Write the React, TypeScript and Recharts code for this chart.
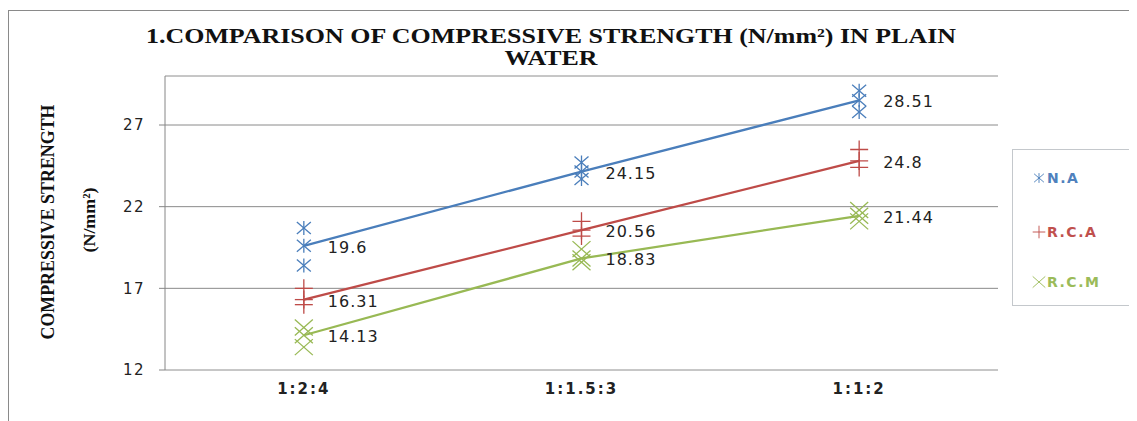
import React from 'react'
import { ComposedChart, Line, XAxis, YAxis, CartesianGrid, ReferenceLine, Legend, LabelList } from 'recharts'

const categories = ['1:2:4', '1:1.5:3', '1:1:2']
const naValues = [19.6, 24.15, 28.51]
const rcaValues = [16.31, 20.56, 24.8]
const rcmValues = [14.13, 18.83, 21.44]
// the extra specimen markers above / below each average
const naHigh = [20.7, 24.7, 29.1]
const naLow = [18.4, 23.7, 27.8]
const rcaHigh = [17.0, 21.1, 25.5]
const rcaLow = [16.0, 20.2, 24.4]
const rcmHigh = [14.6, 19.4, 21.8]
const rcmLow = [13.4, 18.6, 21.1]
const yTicks = [12, 17, 22, 27]

const data = categories.map((mix, i) => ({
    mix,
    na: naValues[i], naHi: naHigh[i], naLo: naLow[i],
    rca: rcaValues[i], rcaHi: rcaHigh[i], rcaLo: rcaLow[i],
    rcm: rcmValues[i], rcmHi: rcmHigh[i], rcmLo: rcmLow[i],
}))

const BLUE = '#4a7ebb'
const RED = '#be4b48'
const GREEN = '#98b954'

const Marker = ({ shape, cx, cy, color }: any) => {
    if (cx == null || cy == null) return null
    if (shape === 'star') {
        return (
            <g stroke={color} strokeWidth={1.3} fill="none">
                <line x1={cx - 7} y1={cy - 6} x2={cx + 7} y2={cy + 6} />
                <line x1={cx - 7} y1={cy + 6} x2={cx + 7} y2={cy - 6} />
                <line x1={cx} y1={cy - 7} x2={cx} y2={cy + 7} />
            </g>
        )
    }
    if (shape === 'plus') {
        return (
            <g stroke={color} strokeWidth={1.3} fill="none">
                <line x1={cx - 9} y1={cy} x2={cx + 9} y2={cy} />
                <line x1={cx} y1={cy - 9} x2={cx} y2={cy + 9} />
            </g>
        )
    }
    return (
        <g stroke={color} strokeWidth={1.3} fill="none">
            <line x1={cx - 9} y1={cy - 8} x2={cx + 9} y2={cy + 8} />
            <line x1={cx - 9} y1={cy + 8} x2={cx + 9} y2={cy - 8} />
        </g>
    )
}

const dotFor = (shape: string, color: string) => (p: any) =>
    <Marker key={`${shape}-${p.index}-${p.cy}`} shape={shape} cx={p.cx} cy={p.cy} color={color} />

const ValueLabel = (p: any) => (
    <text x={p.x + 24} y={p.y + 7} fill="#222" fontSize={16} fontFamily="DejaVu Sans" letterSpacing={1}>
        {p.value}
    </text>
)

const legendItems = [
    { name: 'N.A', shape: 'star', color: BLUE, text: '#4f81bd', y: 29 },
    { name: 'R.C.A', shape: 'plus', color: RED, text: '#c0504d', y: 83 },
    { name: 'R.C.M', shape: 'x', color: GREEN, text: '#9bbb59', y: 133 },
]

const LegendBox = () => (
    <svg width={122} height={160} style={{ display: 'block' }}>
        <rect x={0.5} y={0.5} width={118} height={156} fill="#fff" stroke="#c4c8cc" />
        {legendItems.map((it) => (
            <g key={it.name}>
                <g transform={`translate(${27} ${it.y}) scale(0.7)`}>
                    <Marker shape={it.shape} cx={0} cy={0} color={it.color} />
                </g>
                <text x={35} y={it.y + 5} fill={it.text} fontSize={14} fontWeight="bold" fontFamily="DejaVu Sans" letterSpacing={1.5}>
                    {it.name}
                </text>
            </g>
        ))}
    </svg>
)

export default function App() {
    return (
        <div style={{ paddingTop: 2 }}>
            <div style={{ position: 'relative', width: 1128, height: 410, borderTop: '1px solid #8a8a8a', borderLeft: '1px solid #8a8a8a', background: '#fff' }}>
                <ComposedChart width={1128} height={410} data={data} margin={{ top: 65, right: 17, left: 96, bottom: 21 }}>
                    <CartesianGrid vertical={false} stroke="#8a8a8a" />
                    <ReferenceLine y={30} stroke="#c8c8c8" />
                    <XAxis dataKey="mix" scale="band" height={30} axisLine={{ stroke: '#c8c8c8' }} tickLine={false} tickMargin={7}
                        tick={{ fill: '#222', fontSize: 15, fontWeight: 'bold', fontFamily: 'DejaVu Sans', letterSpacing: 2 }} />
                    <YAxis domain={[12, 30]} ticks={yTicks} width={60} allowDataOverflow
                        axisLine={{ stroke: '#868686' }} tickLine={{ stroke: '#868686' }} tickSize={6} tickMargin={14}
                        tick={{ fill: '#222', fontSize: 15, fontFamily: 'DejaVu Sans', letterSpacing: 1.5 }} />
                    <YAxis yAxisId="right" orientation="right" domain={[12, 30]} width={0} tick={false} tickLine={false}
                        axisLine={{ stroke: '#c8c8c8' }} />

                    <Line dataKey="naHi" stroke="none" dot={dotFor('star', BLUE)} activeDot={false} legendType="none" isAnimationActive={false} />
                    <Line dataKey="naLo" stroke="none" dot={dotFor('star', BLUE)} activeDot={false} legendType="none" isAnimationActive={false} />
                    <Line dataKey="rcaHi" stroke="none" dot={dotFor('plus', RED)} activeDot={false} legendType="none" isAnimationActive={false} />
                    <Line dataKey="rcaLo" stroke="none" dot={dotFor('plus', RED)} activeDot={false} legendType="none" isAnimationActive={false} />
                    <Line dataKey="rcmHi" stroke="none" dot={dotFor('x', GREEN)} activeDot={false} legendType="none" isAnimationActive={false} />
                    <Line dataKey="rcmLo" stroke="none" dot={dotFor('x', GREEN)} activeDot={false} legendType="none" isAnimationActive={false} />

                    <Line type="linear" dataKey="na" name="N.A" stroke={BLUE} strokeWidth={2.25} dot={dotFor('star', BLUE)} activeDot={false} isAnimationActive={false}>
                        <LabelList dataKey="na" content={ValueLabel} />
                    </Line>
                    <Line type="linear" dataKey="rca" name="R.C.A" stroke={RED} strokeWidth={2.25} dot={dotFor('plus', RED)} activeDot={false} isAnimationActive={false}>
                        <LabelList dataKey="rca" content={ValueLabel} />
                    </Line>
                    <Line type="linear" dataKey="rcm" name="R.C.M" stroke={GREEN} strokeWidth={2.25} dot={dotFor('x', GREEN)} activeDot={false} isAnimationActive={false}>
                        <LabelList dataKey="rcm" content={ValueLabel} />
                    </Line>

                    <Legend layout="vertical" align="right" verticalAlign="top" content={LegendBox}
                        wrapperStyle={{ position: 'absolute', left: 1003, top: 138, width: 122, height: 160 }} />
                </ComposedChart>

                <svg width={1128} height={410} style={{ position: 'absolute', left: 0, top: 0, pointerEvents: 'none' }}>
                    <g fontFamily="Liberation Serif" fontWeight="bold" fill="#111">
                        <text x={542} y={32} fontSize={21} textAnchor="middle" textLength={810} lengthAdjust="spacingAndGlyphs">
                            1.COMPARISON OF COMPRESSIVE STRENGTH (N/mm²) IN PLAIN
                        </text>
                        <text x={542} y={54} fontSize={21} textAnchor="middle" textLength={93} lengthAdjust="spacingAndGlyphs">
                            WATER
                        </text>
                        <text transform="translate(45 211) rotate(-90)" fontSize={18} textAnchor="middle" textLength={235} lengthAdjust="spacingAndGlyphs">
                            COMPRESSIVE STRENGTH
                        </text>
                        <text transform="translate(86 209) rotate(-90)" fontSize={17} textAnchor="middle" textLength={65} lengthAdjust="spacingAndGlyphs">
                            (N/mm²)
                        </text>
                    </g>
                </svg>
            </div>
        </div>
    )
}
